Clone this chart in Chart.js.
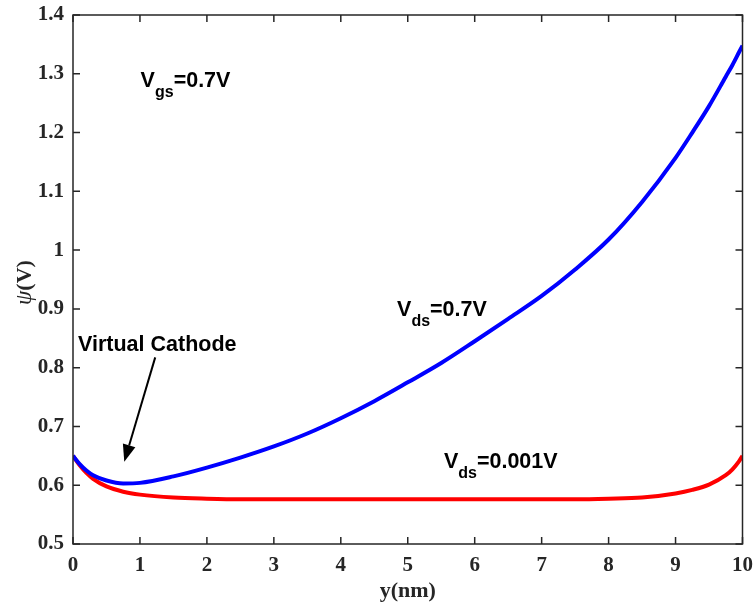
<!DOCTYPE html>
<html>
<head>
<meta charset="utf-8">
<script src="https://cdn.jsdelivr.net/npm/chart.js@4.4.1/dist/chart.umd.min.js"></script>
<style>
  html, body { margin: 0; padding: 0; background: #ffffff; }
  #wrap { width: 755px; height: 607px; position: relative; }
</style>
</head>
<body>
<div id="wrap"><canvas id="c" width="755" height="607"></canvas></div>
<script>
// Position along the channel, y (nm)
const positionNm = [0, 0.1, 0.2, 0.3, 0.5, 0.75, 1, 1.5, 2, 2.5, 3, 3.5, 4, 4.5, 5, 5.5,
                    6, 6.5, 7, 7.5, 8, 8.5, 9, 9.25, 9.5, 9.75, 9.85, 9.95, 10];

// Surface potential psi (V) for Vds = 0.7 V
const psiVds07 = [0.650, 0.636, 0.625, 0.617, 0.608, 0.603, 0.604, 0.615, 0.630, 0.647, 0.666, 0.688,
                  0.714, 0.743, 0.775, 0.808, 0.845, 0.883, 0.922, 0.967, 1.018, 1.082, 1.157,
                  1.200, 1.245, 1.295, 1.315, 1.337, 1.348];

// Surface potential psi (V) for Vds = 0.001 V
const psiVds0001 = [0.650, 0.634, 0.621, 0.611, 0.598, 0.589, 0.584, 0.579, 0.577, 0.576, 0.576, 0.576,
                    0.576, 0.576, 0.576, 0.576, 0.576, 0.576, 0.576, 0.576, 0.577, 0.579, 0.586,
                    0.592, 0.601, 0.617, 0.627, 0.641, 0.650];

const xTicks = [0, 1, 2, 3, 4, 5, 6, 7, 8, 9, 10];
const yTicks = [0.5, 0.6, 0.7, 0.8, 0.9, 1.0, 1.1, 1.2, 1.3, 1.4];

// Text annotations: [x (nm), psi (V), main text, subscript, tail]
const labels = [
  { x: 1.01, y: 1.277, main: 'V', sub: 'gs', tail: '=0.7V' },
  { x: 4.84, y: 0.888, main: 'V', sub: 'ds', tail: '=0.7V' },
  { x: 5.54, y: 0.629, main: 'V', sub: 'ds', tail: '=0.001V' },
  { x: 0.075, y: 0.829, main: 'Virtual Cathode', sub: '', tail: '' }
];
// Arrow pointing at the potential minimum: [from, to]
const arrowFrom = { x: 1.228, y: 0.8175 };
const arrowTo = { x: 0.766, y: 0.640 };

const AXIS_COLOR = '#262626';
const TICK_FONT = { family: '"Liberation Serif", "Times New Roman", serif', size: 21, weight: 'bold' };
const ANN_FAMILY = '"Liberation Sans", Arial, Helvetica, sans-serif';

const toPoints = (xs, ys) => xs.map((x, i) => ({ x: x, y: ys[i] }));

// Box around the plot with inward ticks on all four sides
const boxPlugin = {
  id: 'boxTicks',
  afterDatasetsDraw(chart) {
    const { ctx, chartArea: a, scales } = chart;
    const len = 7;
    ctx.save();
    ctx.strokeStyle = AXIS_COLOR;
    ctx.lineWidth = 1.5;
    ctx.strokeRect(a.left, a.top, a.right - a.left, a.bottom - a.top);
    ctx.beginPath();
    xTicks.forEach(v => {
      const px = scales.x.getPixelForValue(v);
      ctx.moveTo(px, a.bottom); ctx.lineTo(px, a.bottom - len);
      ctx.moveTo(px, a.top); ctx.lineTo(px, a.top + len);
    });
    yTicks.forEach(v => {
      const py = scales.y.getPixelForValue(v);
      ctx.moveTo(a.left, py); ctx.lineTo(a.left + len, py);
      ctx.moveTo(a.right, py); ctx.lineTo(a.right - len, py);
    });
    ctx.stroke();
    ctx.restore();
  }
};

// Axis titles and in-plot annotations
const annotatePlugin = {
  id: 'annotate',
  afterDraw(chart) {
    const { ctx, chartArea: a, scales } = chart;
    ctx.save();

    // x-axis title
    ctx.fillStyle = AXIS_COLOR;
    ctx.font = 'bold 22px "Liberation Serif", "Times New Roman", serif';
    ctx.textAlign = 'center';
    ctx.textBaseline = 'alphabetic';
    ctx.fillText('y(nm)', (a.left + a.right) / 2, 597);

    // y-axis title: italic psi followed by bold (V)
    ctx.save();
    ctx.translate(31, 282.5);
    ctx.rotate(-Math.PI / 2);
    ctx.textAlign = 'left';
    const psiFont = 'italic 23px "Liberation Serif", "Times New Roman", serif';
    const vFont = 'bold 22px "Liberation Serif", "Times New Roman", serif';
    ctx.font = psiFont; const wPsi = ctx.measureText('\u03C8').width;
    ctx.font = vFont; const wV = ctx.measureText('(V)').width;
    const start = -(wPsi + wV) / 2;
    ctx.font = psiFont; ctx.fillText('\u03C8', start, 0);
    ctx.font = vFont; ctx.fillText('(V)', start + wPsi, 0);
    ctx.restore();

    // annotations
    ctx.fillStyle = '#000000';
    ctx.textAlign = 'left';
    labels.forEach(l => {
      let px = scales.x.getPixelForValue(l.x);
      const py = scales.y.getPixelForValue(l.y);
      ctx.font = 'bold 21.5px ' + ANN_FAMILY;
      ctx.fillText(l.main, px, py);
      px += ctx.measureText(l.main).width;
      if (l.sub) {
        ctx.font = 'bold 16px ' + ANN_FAMILY;
        ctx.fillText(l.sub, px, py + 10);
        px += ctx.measureText(l.sub).width;
      }
      if (l.tail) {
        ctx.font = 'bold 21.5px ' + ANN_FAMILY;
        ctx.fillText(l.tail, px, py);
      }
    });

    // arrow
    const x0 = scales.x.getPixelForValue(arrowFrom.x), y0 = scales.y.getPixelForValue(arrowFrom.y);
    const x1 = scales.x.getPixelForValue(arrowTo.x), y1 = scales.y.getPixelForValue(arrowTo.y);
    const ang = Math.atan2(y1 - y0, x1 - x0);
    const headLen = 17, headHalf = 6.5;
    const bx = x1 - headLen * Math.cos(ang), by = y1 - headLen * Math.sin(ang);
    ctx.strokeStyle = '#000000';
    ctx.lineWidth = 2;
    ctx.beginPath(); ctx.moveTo(x0, y0); ctx.lineTo(bx, by); ctx.stroke();
    ctx.beginPath();
    ctx.moveTo(x1, y1);
    ctx.lineTo(bx + headHalf * Math.sin(ang), by - headHalf * Math.cos(ang));
    ctx.lineTo(bx - headHalf * Math.sin(ang), by + headHalf * Math.cos(ang));
    ctx.closePath();
    ctx.fill();

    ctx.restore();
  }
};

new Chart(document.getElementById('c'), {
  type: 'line',
  data: {
    datasets: [
      {
        label: 'Vds=0.7V',
        data: toPoints(positionNm, psiVds07),
        borderColor: '#0000ff',
        borderWidth: 4,
        pointRadius: 0,
        cubicInterpolationMode: 'monotone',
        fill: false
      },
      {
        label: 'Vds=0.001V',
        data: toPoints(positionNm, psiVds0001),
        borderColor: '#ff0000',
        borderWidth: 4,
        pointRadius: 0,
        cubicInterpolationMode: 'monotone',
        fill: false
      }
    ]
  },
  options: {
    responsive: false,
    animation: false,
    devicePixelRatio: 1,
    layout: { padding: { left: 0, right: 12.5, top: 15, bottom: 0 } },
    plugins: { legend: { display: false }, tooltip: { enabled: false } },
    scales: {
      x: {
        type: 'linear',
        min: 0, max: 10,
        afterFit(scale) {
          scale.height = 63;
          scale.paddingLeft = 0; scale.paddingRight = 0;
        },
        afterBuildTicks(scale) { scale.ticks = xTicks.map(v => ({ value: v })); },
        grid: { display: false, drawTicks: false },
        border: { display: false },
        ticks: {
          color: AXIS_COLOR, font: TICK_FONT, padding: 9, maxRotation: 0,
          callback: v => String(v)
        }
      },
      y: {
        type: 'linear',
        min: 0.5, max: 1.4,
        afterFit(scale) {
          scale.width = 73;
          scale.paddingTop = 0; scale.paddingBottom = 0;
        },
        afterBuildTicks(scale) { scale.ticks = yTicks.map(v => ({ value: v })); },
        grid: { display: false, drawTicks: false },
        border: { display: false },
        ticks: {
          color: AXIS_COLOR, font: TICK_FONT, padding: 9,
          callback: v => String(Number(Number(v).toFixed(1)))
        }
      }
    }
  },
  plugins: [boxPlugin, annotatePlugin]
});
</script>
</body>
</html>
